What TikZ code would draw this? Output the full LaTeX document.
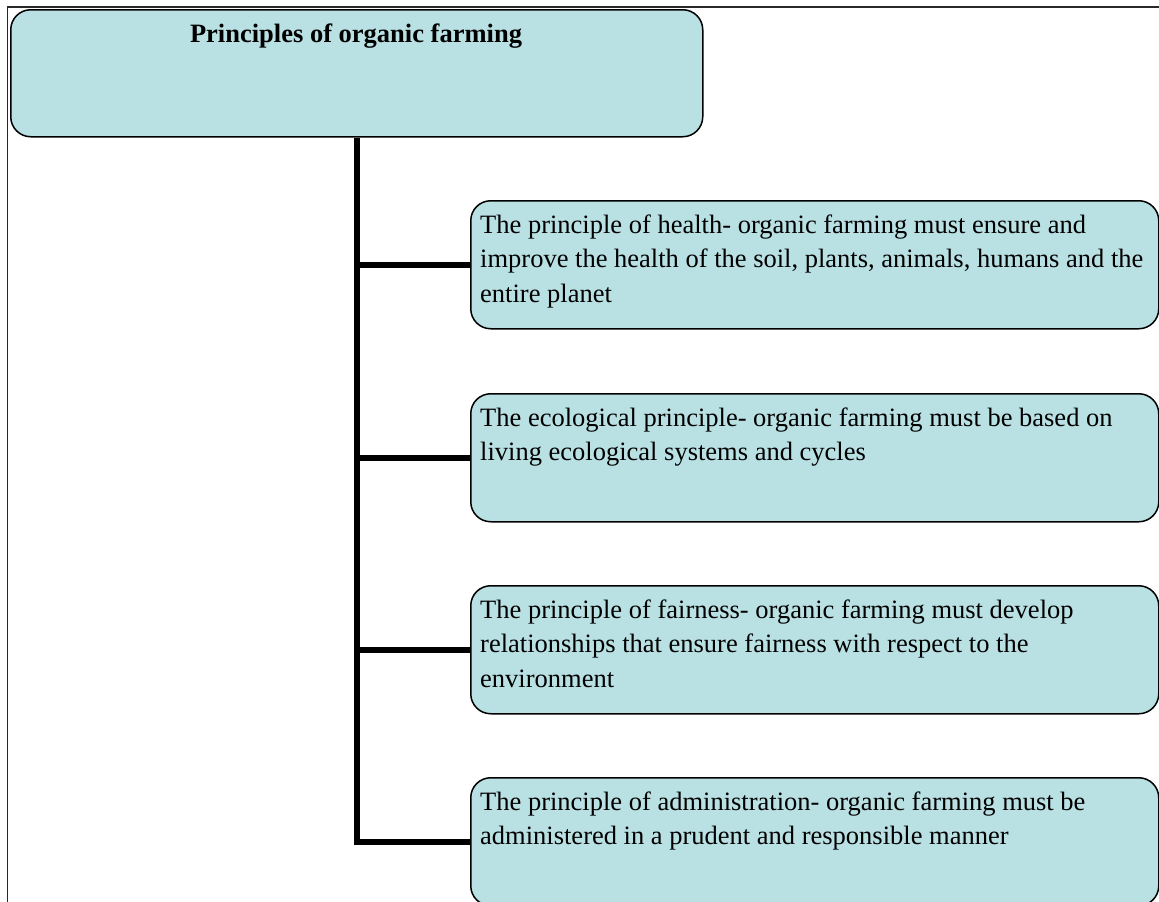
\documentclass[tikz,border=0pt]{standalone}
\usepackage{fontspec}
\setmainfont{Liberation Serif}
\definecolor{boxfill}{RGB}{185,224,227}
\definecolor{framecol}{RGB}{40,40,40}
\begin{document}
\begin{tikzpicture}[x=1pt,y=-1pt,
  box/.style={draw=black, line width=1.5pt, fill=boxfill, rounded corners=20pt, anchor=north west, minimum width=688pt, minimum height=128pt, inner sep=0pt},
  txt/.style={anchor=north west, inner sep=0pt, align=left, font=\fontsize{26.5}{34.5}\selectfont},
  conn/.style={line width=5.5pt},
  frameline/.style={draw=framecol, line width=1.4pt}]
\useasboundingbox (0,0) rectangle (1159,902);
\clip (0,0) rectangle (1159,902);
\draw[frameline] (7.5,920) -- (7.5,7) -- (1170,7);
% top box
\node[box, minimum width=692pt, minimum height=127pt] (top) at (10,9) {};
\node[anchor=base, inner sep=0pt, font=\bfseries\fontsize{26.5}{34.5}\selectfont] (title) at (356,42) {Principles of organic farming};
% child boxes
\node[box] (b1) at (470,200) {};
\node[box] (b2) at (470,393) {};
\node[box] (b3) at (470,585) {};
\node[box] (b4) at (470,777) {};
\node[txt] (t1) at (480,208.85) {\strut The principle of health- organic farming must ensure and\\improve the health of the soil, plants, animals, humans and the\\entire planet};
\node[txt] (t2) at (480,401.85) {\strut The ecological principle- organic farming must be based on\\living ecological systems and cycles};
\node[txt] (t3) at (480,593.85) {\strut The principle of fairness- organic farming must develop\\relationships that ensure fairness with respect to the\\environment};
\node[txt] (t4) at (480,785.85) {\strut The principle of administration- organic farming must be\\administered in a prudent and responsible manner};
% connectors
\draw[conn] (top.south) |- (b4.west);
\draw[conn] (b1.west) -- (b1.west -| top.south);
\draw[conn] (b2.west) -- (b2.west -| top.south);
\draw[conn] (b3.west) -- (b3.west -| top.south);
\end{tikzpicture}
\end{document}
